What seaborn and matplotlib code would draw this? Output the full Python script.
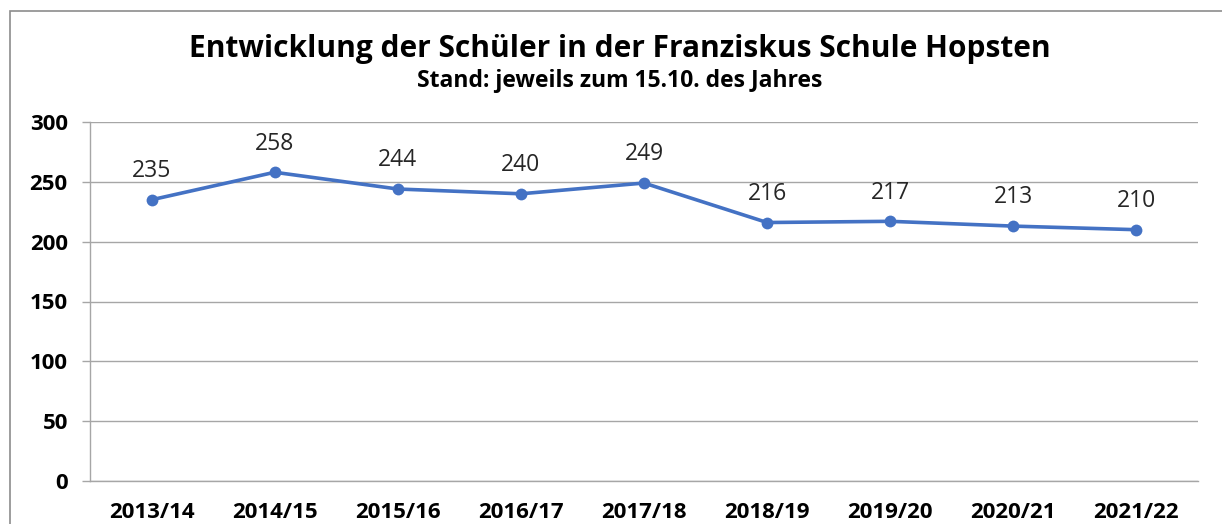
import matplotlib

matplotlib.use("Agg")

import matplotlib.pyplot as plt
import numpy as np
import pandas as pd
import seaborn as sns
from matplotlib.patches import Rectangle

SCHOOL_YEARS = ["2013/14", "2014/15", "2015/16", "2016/17", "2017/18",
                "2018/19", "2019/20", "2020/21", "2021/22"]
STUDENTS = [235, 258, 244, 240, 249, 216, 217, 213, 210]
Y_TICKS = [0, 50, 100, 150, 200, 250, 300]

TITLE = "Entwicklung der Schüler in der Franziskus Schule Hopsten"
SUBTITLE = "Stand: jeweils zum 15.10. des Jahres"

LINE_COLOR = "#4472C4"
GRID_COLOR = "#A6A6A6"


def main() -> None:
    frame = pd.DataFrame({"pos": np.arange(len(SCHOOL_YEARS)), "students": STUDENTS})

    sns.set_theme(style="white")
    plt.rcParams["font.family"] = ["Open Sans", "DejaVu Sans"]

    fig = plt.figure(figsize=(12.22, 5.24), dpi=100)
    # outer chart frame, only top and left edges are visible in the picture
    fig.patches.append(
        Rectangle((10 / 1222, -0.1), 1.2, 1 - 11 / 524 + 0.1, transform=fig.transFigure,
                  fill=False, edgecolor="#8C8C8C", linewidth=1.2)
    )
    ax = fig.add_axes([90 / 1222, 1 - 481 / 524, (1198 - 90) / 1222, (481 - 122) / 524])

    sns.lineplot(data=frame, x="pos", y="students", color=LINE_COLOR, linewidth=2.6,
                 marker="o", markersize=8.5, markeredgewidth=0, ax=ax)

    for pos, value in zip(frame["pos"], frame["students"]):
        ax.annotate(f"{value}", (pos, value), xytext=(0, 12), textcoords="offset points",
                    ha="center", va="bottom", fontsize=16.5, color="#262626")

    ax.set_xlim(-0.5, len(SCHOOL_YEARS) - 0.5)
    ax.set_ylim(0, 300)
    ax.set_yticks(Y_TICKS)
    ax.set_yticklabels([str(t) for t in Y_TICKS], fontsize=16, fontweight="bold")
    ax.set_xticks(frame["pos"])
    ax.set_xticklabels(SCHOOL_YEARS, fontsize=16, fontweight="bold")
    ax.set_xticks(np.arange(-0.5, len(SCHOOL_YEARS)), minor=True)
    ax.tick_params(axis="x", which="major", length=0, pad=15, colors="black")
    ax.tick_params(axis="x", which="minor", length=6, width=1, color=GRID_COLOR, direction="out")
    ax.tick_params(axis="y", length=6, width=1, color=GRID_COLOR, direction="out", pad=10,
                   labelcolor="black", left=True)
    ax.yaxis.grid(True, color=GRID_COLOR, linewidth=1)
    ax.set_axisbelow(True)
    for side in ["top", "right"]:
        ax.spines[side].set_visible(False)
    for side in ["left", "bottom"]:
        ax.spines[side].set_color(GRID_COLOR)
        ax.spines[side].set_linewidth(1)
    ax.set_xlabel("")
    ax.set_ylabel("")

    fig.text(0.507, 1 - 49 / 524, TITLE, ha="center", va="center", fontsize=21.5,
             fontweight="bold", color="black")
    fig.text(0.507, 1 - 81 / 524, SUBTITLE, ha="center", va="center", fontsize=16.5,
             fontweight="bold", color="black")

    fig.savefig("out.png", dpi=100)


if __name__ == "__main__":
    main()
